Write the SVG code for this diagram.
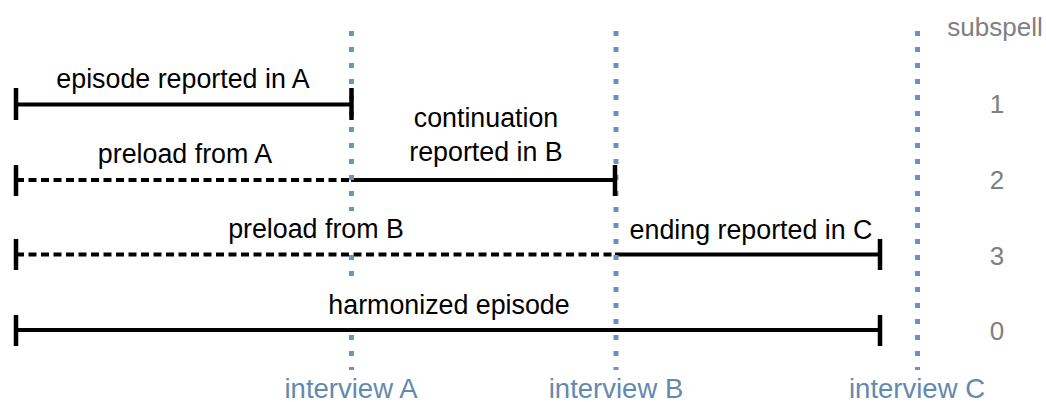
<svg xmlns="http://www.w3.org/2000/svg" width="1046" height="402" viewBox="0 0 1046 402">
<style>
.bar{stroke:#000;stroke-width:4;fill:none}
.dash{stroke:#000;stroke-width:4;fill:none;stroke-dasharray:8 4.5}
.cap{stroke:#000;stroke-width:4.5;fill:none}
.vdot{stroke:#6f93b8;stroke-width:5;fill:none;stroke-dasharray:5 11}
.lbl{font-family:"Liberation Sans",Arial,sans-serif;font-size:26.8px;fill:#000;text-anchor:middle}
.num{font-family:"Liberation Sans",Arial,sans-serif;font-size:26px;fill:#808080;text-anchor:middle}
.iv{font-family:"Liberation Sans",Arial,sans-serif;font-size:27.5px;fill:#6489ae;text-anchor:middle}
.bg{fill:#fff}
</style>
<g id="connectors">
<line class="bar" x1="16" y1="104.5" x2="351" y2="104.5"/>
<line class="dash" x1="16" y1="180" x2="351" y2="180"/>
<line class="bar" x1="351" y1="180" x2="615" y2="180"/>
<line class="dash" x1="16" y1="254.5" x2="615" y2="254.5"/>
<line class="bar" x1="615" y1="254.5" x2="880" y2="254.5"/>
<line class="bar" x1="16" y1="330" x2="880" y2="330"/>
</g>
<g id="interview-lines">
<line class="vdot" x1="351.5" y1="31" x2="351.5" y2="370"/>
<line class="vdot" x1="616" y1="31" x2="616" y2="370"/>
<line class="vdot" x1="917.5" y1="31" x2="917.5" y2="370"/>
</g>
<g id="label-backgrounds">
<rect class="bg" x="226" y="211" width="180" height="38"/>
<rect class="bg" x="318" y="286" width="262" height="41"/>
</g>
<g id="caps">
<line class="cap" x1="16" y1="88" x2="16" y2="120"/>
<line class="cap" x1="351.5" y1="88" x2="351.5" y2="120"/>
<line class="cap" x1="16" y1="165" x2="16" y2="196"/>
<line class="cap" x1="615" y1="165" x2="615" y2="196"/>
<line class="cap" x1="16" y1="239" x2="16" y2="270"/>
<line class="cap" x1="880" y1="239" x2="880" y2="270"/>
<line class="cap" x1="16" y1="315" x2="16" y2="346"/>
<line class="cap" x1="880" y1="315" x2="880" y2="346"/>
</g>
<g id="node-subspell1">
<text class="lbl" x="183" y="88">episode reported in A</text>
<text class="num" x="997" y="113">1</text>
</g>
<g id="node-subspell2">
<text class="lbl" x="185" y="163">preload from A</text>
<text class="lbl" x="486" y="127">continuation</text>
<text class="lbl" x="486" y="161">reported in B</text>
<text class="num" x="997" y="189">2</text>
</g>
<g id="node-subspell3">
<text class="lbl" x="316" y="238">preload from B</text>
<text class="lbl" x="751" y="239">ending reported in C</text>
<text class="num" x="997" y="265">3</text>
</g>
<g id="node-subspell0">
<text class="lbl" x="449" y="314">harmonized episode</text>
<text class="num" x="997" y="340">0</text>
</g>
<g id="header">
<text class="num" x="995" y="36">subspell</text>
</g>
<g id="interviews">
<text class="iv" x="351" y="398">interview A</text>
<text class="iv" x="616" y="398">interview B</text>
<text class="iv" x="917" y="398">interview C</text>
</g>
</svg>
